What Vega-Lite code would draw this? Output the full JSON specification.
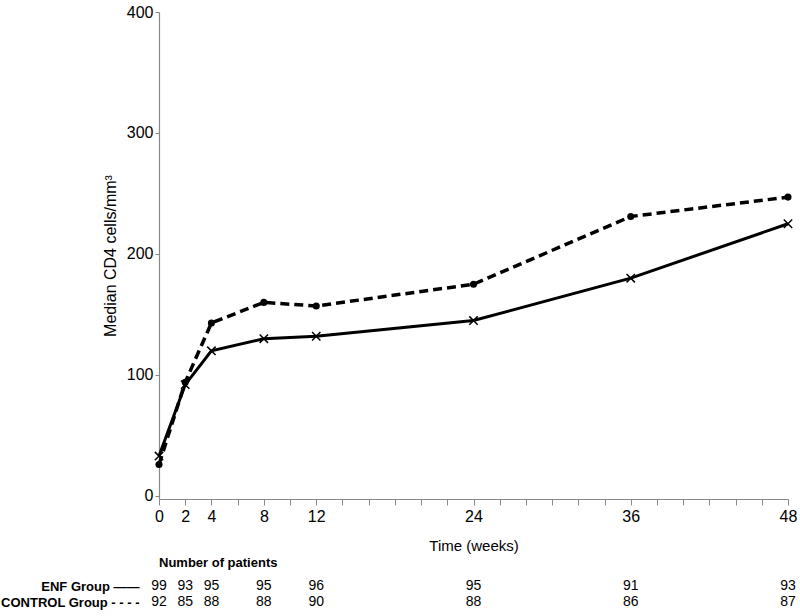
{
  "$schema": "https://vega.github.io/schema/vega-lite/v6.json",
  "background": "white",
  "padding": {"left": 0, "top": 4, "right": 6, "bottom": 2},
  "spacing": 4,
  "config": {
    "font": "Liberation Sans",
    "view": {"stroke": null},
    "axis": {"labelColor": "black", "titleColor": "black", "grid": false}
  },
  "datasets": {
    "cd4": [
      {"group": "ENF", "week": 0, "cd4": 33},
      {"group": "ENF", "week": 2, "cd4": 92},
      {"group": "ENF", "week": 4, "cd4": 120},
      {"group": "ENF", "week": 8, "cd4": 130},
      {"group": "ENF", "week": 12, "cd4": 132},
      {"group": "ENF", "week": 24, "cd4": 145},
      {"group": "ENF", "week": 36, "cd4": 180},
      {"group": "ENF", "week": 48, "cd4": 225},
      {"group": "CONTROL", "week": 0, "cd4": 26},
      {"group": "CONTROL", "week": 2, "cd4": 94},
      {"group": "CONTROL", "week": 4, "cd4": 143},
      {"group": "CONTROL", "week": 8, "cd4": 160},
      {"group": "CONTROL", "week": 12, "cd4": 157},
      {"group": "CONTROL", "week": 24, "cd4": 175},
      {"group": "CONTROL", "week": 36, "cd4": 231},
      {"group": "CONTROL", "week": 48, "cd4": 247}
    ],
    "patients": [
      {"group": "ENF", "week": 0, "n": 99},
      {"group": "ENF", "week": 2, "n": 93},
      {"group": "ENF", "week": 4, "n": 95},
      {"group": "ENF", "week": 8, "n": 95},
      {"group": "ENF", "week": 12, "n": 96},
      {"group": "ENF", "week": 24, "n": 95},
      {"group": "ENF", "week": 36, "n": 91},
      {"group": "ENF", "week": 48, "n": 93},
      {"group": "CONTROL", "week": 0, "n": 92},
      {"group": "CONTROL", "week": 2, "n": 85},
      {"group": "CONTROL", "week": 4, "n": 88},
      {"group": "CONTROL", "week": 8, "n": 88},
      {"group": "CONTROL", "week": 12, "n": 90},
      {"group": "CONTROL", "week": 24, "n": 88},
      {"group": "CONTROL", "week": 36, "n": 86},
      {"group": "CONTROL", "week": 48, "n": 87}
    ]
  },
  "vconcat": [
    {
      "width": 629,
      "height": 487,
      "data": {"name": "cd4"},
      "encoding": {
        "x": {
          "field": "week", "type": "quantitative",
          "scale": {"domain": [0, 48], "nice": false, "zero": false},
          "axis": {
            "title": "Time (weeks)",
            "titleFontSize": 15, "titleFontWeight": "normal", "titlePadding": 14,
            "values": [0,2,4,6,8,10,12,14,16,18,20,22,24,26,28,30,32,34,36,38,40,42,44,46,48],
            "labelExpr": "indexof([0,2,4,8,12,24,36,48], datum.value) >= 0 ? datum.label : ''",
            "labelFontSize": 16, "labelPadding": 3, "labelFlush": false, "labelOverlap": false,
            "tickSize": 6, "tickColor": "#888", "domainColor": "#888", "domainWidth": 1.2
          }
        },
        "y": {
          "field": "cd4", "type": "quantitative",
          "scale": {"domain": [-2.5, 400], "nice": false, "zero": false},
          "axis": {
            "title": "Median CD4 cells/mm³",
            "titleFontSize": 16, "titleFontWeight": "normal", "titlePadding": 8,
            "values": [0, 100, 200, 300, 400],
            "labelFontSize": 16, "labelPadding": 2,
            "tickSize": 4, "tickColor": "#888", "domainColor": "#888", "domainWidth": 1.2
          }
        }
      },
      "layer": [
        {
          "transform": [{"filter": "datum.group === 'CONTROL'"}],
          "mark": {"type": "line", "color": "black", "strokeWidth": 3.5, "strokeDash": [9, 5]},
          "encoding": {}
        },
        {
          "transform": [{"filter": "datum.group === 'ENF'"}],
          "mark": {"type": "line", "color": "black", "strokeWidth": 3},
          "encoding": {}
        },
        {
          "transform": [{"filter": "datum.group === 'CONTROL'"}],
          "mark": {"type": "point", "shape": "circle", "filled": true, "color": "black", "size": 50, "opacity": 1},
          "encoding": {}
        },
        {
          "transform": [{"filter": "datum.group === 'ENF'"}],
          "mark": {"type": "point", "shape": "M-1,-1L1,1M-1,1L1,-1", "filled": false, "color": "black", "strokeWidth": 1.5, "size": 70, "opacity": 1},
          "encoding": {}
        }
      ]
    },
    {
      "width": 629,
      "height": 32,
      "data": {"name": "patients"},
      "title": {"text": "Number of patients", "anchor": "start", "frame": "group", "fontSize": 13, "fontWeight": "bold", "offset": 8, "color": "black"},
      "mark": {"type": "text", "fontSize": 14, "color": "black", "align": "center", "baseline": "middle"},
      "encoding": {
        "x": {
          "field": "week", "type": "quantitative",
          "scale": {"domain": [0, 48], "nice": false, "zero": false},
          "axis": null
        },
        "y": {
          "field": "group", "type": "nominal",
          "sort": ["ENF", "CONTROL"],
          "scale": {"paddingInner": 0, "paddingOuter": 0},
          "axis": {
            "title": null, "domain": false, "ticks": false,
            "labelFontSize": 13, "labelFontWeight": "bold", "labelPadding": 20,
            "labelExpr": "datum.value === 'ENF' ? 'ENF Group ——' : 'CONTROL Group - - - -'"
          }
        },
        "text": {"field": "n", "type": "quantitative"}
      }
    }
  ]
}
